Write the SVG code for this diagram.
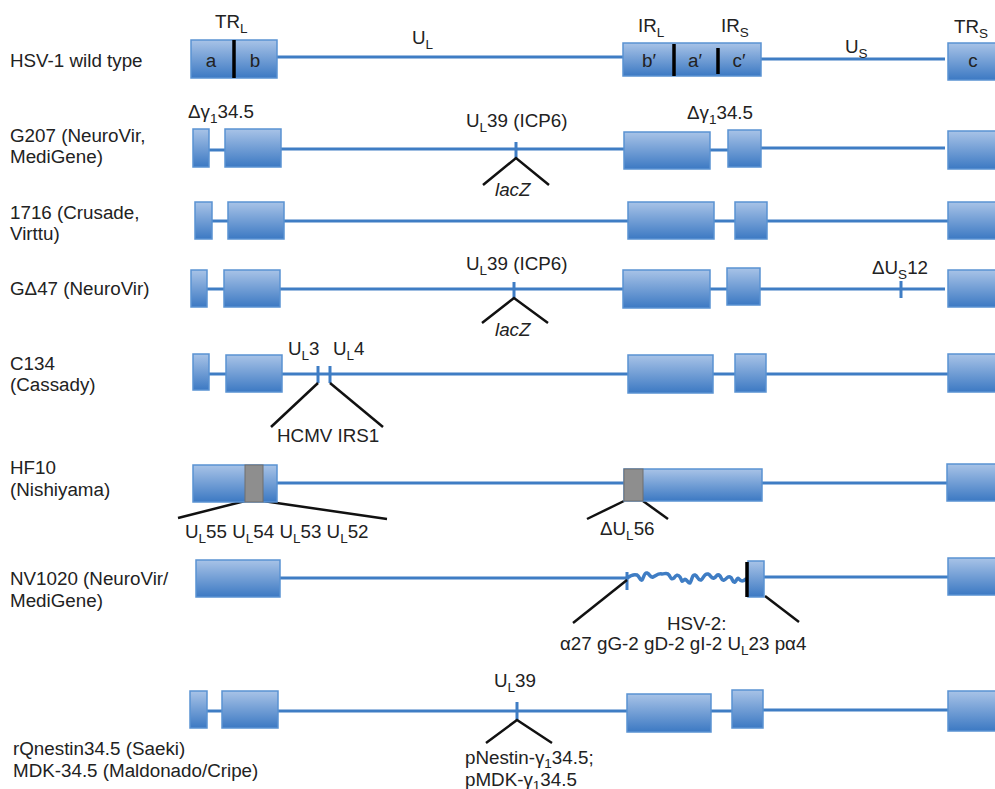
<svg xmlns="http://www.w3.org/2000/svg" width="995" height="789" viewBox="0 0 995 789">
<defs>
<linearGradient id="g" x1="0" y1="0" x2="0" y2="1">
<stop offset="0" stop-color="#a8c3e7"/>
<stop offset="1" stop-color="#3c79c3"/>
</linearGradient>
<style>
text{font-family:"Liberation Sans",Arial,sans-serif;font-size:18.8px;fill:#222}
.b{fill:url(#g);stroke:#5a92d2;stroke-width:1.5}
.gr{fill:#8e8e8e;stroke:#6e6e6e;stroke-width:1}
.bl{stroke:#3f7dc4;stroke-width:3;fill:none}
.wv{stroke:#3f7dc4;stroke-width:3.5;fill:none;stroke-linejoin:round;stroke-linecap:round}
.k{stroke:#111;stroke-width:2.5;fill:none}
.dv{stroke:#000;stroke-width:3.5}
.s{font-size:13.5px}
.c{text-anchor:middle}
.i{font-style:italic}
</style>
</defs>
<rect width="995" height="789" fill="#fff"/>

<g id="connectors">
<line class="bl" x1="277" y1="57" x2="623" y2="57"/>
<line class="bl" x1="761" y1="59" x2="945" y2="59"/>
<line class="bl" x1="209" y1="150" x2="225" y2="150"/>
<line class="bl" x1="281" y1="149" x2="624" y2="149"/>
<line class="bl" x1="710" y1="150" x2="728" y2="150"/>
<line class="bl" x1="761" y1="148" x2="945" y2="148"/>
<line class="bl" x1="516" y1="142" x2="516" y2="158"/>
<polyline class="k" points="483,185 516,158 549,185"/>
<line class="bl" x1="212" y1="221" x2="228" y2="221"/>
<line class="bl" x1="284" y1="221" x2="628" y2="221"/>
<line class="bl" x1="714" y1="221" x2="735" y2="221"/>
<line class="bl" x1="767" y1="221" x2="948" y2="221"/>
<line class="bl" x1="207" y1="289" x2="224" y2="289"/>
<line class="bl" x1="280" y1="289" x2="623" y2="289"/>
<line class="bl" x1="710" y1="289" x2="727" y2="289"/>
<line class="bl" x1="760" y1="289" x2="945" y2="289"/>
<line class="bl" x1="514" y1="282" x2="514" y2="298"/>
<line class="bl" x1="901" y1="281" x2="901" y2="298"/>
<polyline class="k" points="482,323 514,298 548,323"/>
<line class="bl" x1="209" y1="374" x2="226" y2="374"/>
<line class="bl" x1="282" y1="374" x2="628" y2="374"/>
<line class="bl" x1="713" y1="374" x2="735" y2="374"/>
<line class="bl" x1="766" y1="374" x2="948" y2="374"/>
<line class="bl" x1="318" y1="366" x2="318" y2="383"/>
<line class="bl" x1="330" y1="366" x2="330" y2="383"/>
<line class="k" x1="318" y1="383" x2="271" y2="427"/>
<line class="k" x1="330" y1="383" x2="383" y2="427"/>
<line class="bl" x1="277" y1="483" x2="624" y2="483"/>
<line class="bl" x1="762" y1="483" x2="947" y2="483"/>
<line class="k" x1="245" y1="501" x2="178" y2="518"/>
<line class="k" x1="263" y1="501" x2="387" y2="519"/>
<line class="k" x1="624" y1="501" x2="587" y2="519"/>
<line class="k" x1="643" y1="501" x2="668" y2="519"/>
<line class="bl" x1="280" y1="578" x2="627" y2="578"/>
<line class="bl" x1="627" y1="572" x2="627" y2="590"/>
<path class="wv" d="M627,578 C631,575 634,574 637,575 C640,577 640,581 642,580 C644,578 644,572 647,573 C650,574 650,578 653,577 C656,576 658,573 662,574 C665,574 667,572 669,575 C671,578 671,580 674,578 C676,575 678,574 680,577 C682,580 681,583 684,580 C686,577 688,584 690,583 C692,581 692,574 695,575 C698,576 698,581 701,580 C704,578 704,573 708,574 C711,575 711,579 714,578 C717,577 716,574 719,575 C722,577 721,581 724,580 C727,579 727,576 730,577 C733,578 732,583 735,582 C737,580 737,577 739,579 C741,581 742,582 746,579"/>
<line class="bl" x1="764" y1="577" x2="948" y2="577"/>
<line class="k" x1="627" y1="580" x2="573" y2="623"/>
<line class="k" x1="765" y1="596" x2="799" y2="622"/>
<line class="bl" x1="207" y1="711" x2="222" y2="711"/>
<line class="bl" x1="278" y1="711" x2="627" y2="711"/>
<line class="bl" x1="711" y1="711" x2="732" y2="711"/>
<line class="bl" x1="763" y1="710" x2="948" y2="710"/>
<line class="bl" x1="517" y1="702" x2="517" y2="720"/>
<polyline class="k" points="486,743 517,720 552,743"/>
</g>

<g id="row-wt">
<text x="10" y="67">HSV-1 wild type</text>
<rect class="b" x="191" y="40" width="86" height="38"/>
<line class="dv" x1="234" y1="40" x2="234" y2="78"/>
<text class="c" x="211" y="67">a</text>
<text class="c" x="255" y="67">b</text>
<rect class="b" x="623" y="43" width="138" height="33"/>
<line class="dv" x1="674" y1="44" x2="674" y2="76"/>
<line class="dv" x1="718" y1="48" x2="718" y2="74"/>
<text class="c" x="649" y="67">b′</text>
<text class="c" x="695" y="67">a′</text>
<text class="c" x="739" y="67">c′</text>
<rect class="b" x="948" y="43" width="60" height="37"/>
<text class="c" x="973" y="67">c</text>
<text x="215" y="28">TR<tspan class="s" dy="5">L</tspan></text>
<text x="412" y="44">U<tspan class="s" dy="5">L</tspan></text>
<text x="638" y="32">IR<tspan class="s" dy="5">L</tspan></text>
<text x="721" y="32">IR<tspan class="s" dy="5">S</tspan></text>
<text x="845" y="53">U<tspan class="s" dy="5">S</tspan></text>
<text x="954" y="33">TR<tspan class="s" dy="5">S</tspan></text>
</g>

<g id="row-g207">
<text x="10" y="142">G207 (NeuroVir,</text>
<text x="10" y="163">MediGene)</text>
<rect class="b" x="193" y="129" width="16" height="38"/>
<rect class="b" x="225" y="129" width="56" height="38"/>
<rect class="b" x="624" y="132" width="86" height="37"/>
<rect class="b" x="728" y="130" width="33" height="37"/>
<rect class="b" x="948" y="131" width="60" height="38"/>
<text x="188" y="118">Δγ<tspan class="s" dy="5">1</tspan><tspan dy="-5">34.5</tspan></text>
<text x="687" y="119">Δγ<tspan class="s" dy="5">1</tspan><tspan dy="-5">34.5</tspan></text>
<text x="466" y="127">U<tspan class="s" dy="5">L</tspan><tspan dy="-5">39 (ICP6)</tspan></text>
<text class="i" x="495" y="196">lacZ</text>
</g>

<g id="row-1716">
<text x="10" y="219">1716 (Crusade,</text>
<text x="10" y="240">Virttu)</text>
<rect class="b" x="195" y="202" width="17" height="37"/>
<rect class="b" x="228" y="202" width="56" height="37"/>
<rect class="b" x="628" y="202" width="86" height="37"/>
<rect class="b" x="735" y="202" width="32" height="37"/>
<rect class="b" x="948" y="202" width="60" height="37"/>
</g>

<g id="row-gd47">
<text x="10" y="295">GΔ47 (NeuroVir)</text>
<rect class="b" x="191" y="270" width="16" height="37"/>
<rect class="b" x="224" y="270" width="56" height="37"/>
<rect class="b" x="623" y="270" width="87" height="38"/>
<rect class="b" x="727" y="268" width="33" height="37"/>
<rect class="b" x="948" y="270" width="60" height="37"/>
<text x="466" y="270">U<tspan class="s" dy="5">L</tspan><tspan dy="-5">39 (ICP6)</tspan></text>
<text class="i" x="495" y="336">lacZ</text>
<text x="872" y="274">ΔU<tspan class="s" dy="5">S</tspan><tspan dy="-5">12</tspan></text>
</g>

<g id="row-c134">
<text x="10" y="370">C134</text>
<text x="10" y="391">(Cassady)</text>
<rect class="b" x="193" y="354" width="16" height="36"/>
<rect class="b" x="226" y="355" width="56" height="37"/>
<rect class="b" x="628" y="355" width="85" height="38"/>
<rect class="b" x="735" y="354" width="31" height="38"/>
<rect class="b" x="948" y="354" width="60" height="38"/>
<text x="288" y="355">U<tspan class="s" dy="5">L</tspan><tspan dy="-5">3</tspan></text>
<text x="333" y="355">U<tspan class="s" dy="5">L</tspan><tspan dy="-5">4</tspan></text>
<text x="277" y="442">HCMV IRS1</text>
</g>

<g id="row-hf10">
<text x="10" y="474">HF10</text>
<text x="10" y="496">(Nishiyama)</text>
<rect class="b" x="193" y="465" width="84" height="37"/>
<rect class="gr" x="245" y="465" width="18" height="37"/>
<rect class="b" x="624" y="469" width="138" height="32"/>
<rect class="gr" x="624" y="469" width="19" height="32"/>
<rect class="b" x="947" y="464" width="60" height="37"/>
<text x="185" y="538">U<tspan class="s" dy="5">L</tspan><tspan dy="-5">55 U</tspan><tspan class="s" dy="5">L</tspan><tspan dy="-5">54 U</tspan><tspan class="s" dy="5">L</tspan><tspan dy="-5">53 U</tspan><tspan class="s" dy="5">L</tspan><tspan dy="-5">52</tspan></text>
<text x="600" y="535">ΔU<tspan class="s" dy="5">L</tspan><tspan dy="-5">56</tspan></text>
</g>

<g id="row-nv1020">
<text x="10" y="585">NV1020 (NeuroVir/</text>
<text x="10" y="607">MediGene)</text>
<rect class="b" x="196" y="560" width="84" height="37"/>
<rect class="b" x="748" y="561" width="16" height="36"/>
<line class="dv" x1="747" y1="562" x2="747" y2="597"/>
<rect class="b" x="948" y="558" width="60" height="37"/>
<text x="667" y="630">HSV-2:</text>
<text x="560" y="650">α27 gG-2 gD-2 gI-2 U<tspan class="s" dy="5">L</tspan><tspan dy="-5">23 pα4</tspan></text>
</g>

<g id="row-rqnestin">
<text x="13" y="755">rQnestin34.5 (Saeki)</text>
<text x="13" y="777">MDK-34.5 (Maldonado/Cripe)</text>
<rect class="b" x="190" y="691" width="17" height="37"/>
<rect class="b" x="222" y="691" width="56" height="37"/>
<rect class="b" x="627" y="694" width="84" height="38"/>
<rect class="b" x="732" y="690" width="31" height="38"/>
<rect class="b" x="948" y="691" width="60" height="40"/>
<text x="494" y="687">U<tspan class="s" dy="5">L</tspan><tspan dy="-5">39</tspan></text>
<text x="465" y="764">pNestin-γ<tspan class="s" dy="4">1</tspan><tspan dy="-4">34.5;</tspan></text>
<text x="465" y="786">pMDK-γ<tspan class="s" dy="4">1</tspan><tspan dy="-4">34.5</tspan></text>
</g>
</svg>
